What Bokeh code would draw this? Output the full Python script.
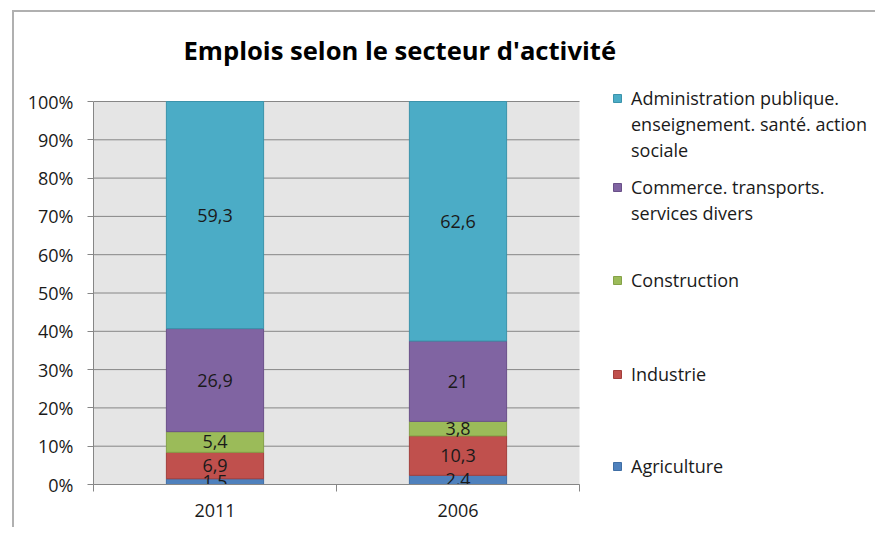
from bokeh.plotting import figure
from bokeh.models import ColumnDataSource, Range1d, FixedTicker, Legend, LegendItem, BoxAnnotation
from bokeh.core.properties import value
from bokeh.embed import file_html
from bokeh.resources import INLINE

# ---- data ----
chart_title = "Emplois selon le secteur d'activité"
years = ["2011", "2006"]
sectors = [
    "Agriculture",
    "Industrie",
    "Construction",
    "Commerce. transports.\nservices divers",
    "Administration publique.\nenseignement. santé. action\nsociale",
]
agriculture = [1.5, 2.4]
industrie = [6.9, 10.3]
construction = [5.4, 3.8]
commerce = [26.9, 21.0]
administration = [59.3, 62.6]
y_ticks = [0, 10, 20, 30, 40, 50, 60, 70, 80, 90, 100]
y_tick_labels = ["0%", "10%", "20%", "30%", "40%", "50%", "60%", "70%", "80%", "90%", "100%"]

colors = ["#4f81bd", "#c0504d", "#9bbb59", "#8064a2", "#4bacc6"]
edges = ["#3f6ea5", "#a33f3c", "#85a248", "#6a5089", "#3b93ab"]
FONT = "Open Sans"
GRID = "#868686"

# ---- layout (pixels) ----
PLOT_W, PLOT_H = 486, 383          # plot area (grey box)
FRAME_W, FRAME_H = 782, 404        # frame also covers the legend area
y_max = y_ticks[-1]
x_max = len(years)

series = [agriculture, industrie, construction, commerce, administration]
keys = ["agr", "ind", "con", "com", "adm"]
totals = [sum(s[i] for s in series) for i in range(len(years))]
xs = [i + 0.5 for i in range(len(years))]
data = {"x": xs}
for k, s in zip(keys, series):
    data[k] = [v / t * 100 for v, t in zip(s, totals)]
src = ColumnDataSource(data)

# label positions (segment midpoints)
lx, ly, lt = [], [], []
for i in range(len(years)):
    base = 0.0
    for k, s in zip(keys, series):
        h = data[k][i]
        lx.append(xs[i])
        ly.append(base + h / 2)
        lt.append(("%g" % s[i]).replace(".", ","))
        base += h
lab_src = ColumnDataSource(dict(x=lx, y=ly, t=lt))

p = figure(
    frame_width=FRAME_W, frame_height=FRAME_H,
    min_border_left=79, min_border_top=68, min_border_right=0, min_border_bottom=43,
    x_range=Range1d(0, x_max * FRAME_W / PLOT_W), y_range=Range1d(0, y_max * FRAME_H / PLOT_H),
    output_backend="svg", toolbar_location=None, tools="",
    title=chart_title,
)
p.margin = (10, 0, 0, 12)
p.styles = {"border-top": "2px solid #b0b0b0", "border-left": "2px solid #b0b0b0"}

p.title.align = "left"
p.title.offset = 90
p.title.text_font = FONT
p.title.text_font_size = "25.6px"
p.title.text_font_style = "bold"
p.title.text_color = "#000000"
p.title.standoff = 25

p.background_fill_color = "white"
p.border_fill_color = "white"
p.outline_line_color = None

plot_bg = BoxAnnotation(left=0, right=x_max, bottom=0, top=y_max, fill_color="#e5e5e5",
                        fill_alpha=1, line_color=None, level="image")
p.add_layout(plot_bg)

# horizontal gridlines limited to the plot area
p.segment(x0=[0] * len(y_ticks), x1=[x_max] * len(y_ticks), y0=y_ticks, y1=y_ticks,
          line_color=GRID, line_width=1)

rends = p.vbar_stack(keys, x="x", width=0.4, source=src, fill_color=colors, line_color=edges, line_width=1)

p.text(x="x", y="y", text="t", source=lab_src, text_align="center", text_baseline="middle",
       text_font=value(FONT), text_font_size="18px", text_color="#1a1a1a")

# axes
p.xgrid.visible = False
p.ygrid.visible = False

p.yaxis.ticker = FixedTicker(ticks=y_ticks)
p.yaxis.bounds = (0, y_max)
p.yaxis.major_label_overrides = {t: l for t, l in zip(y_ticks, y_tick_labels)}
p.yaxis.major_label_text_font = FONT
p.yaxis.major_label_text_font_size = "18px"
p.yaxis.major_label_text_color = "#1a1a1a"
p.yaxis.major_label_standoff = 14
p.yaxis.major_tick_out = 6
p.yaxis.major_tick_in = 0
p.yaxis.minor_tick_line_color = None
p.yaxis.axis_line_color = GRID
p.yaxis.major_tick_line_color = GRID

p.xaxis.ticker = FixedTicker(ticks=xs, minor_ticks=list(range(len(years) + 1)))
p.xaxis.bounds = (0, x_max)
p.xaxis.major_label_overrides = {x: y for x, y in zip(xs, years)}
p.xaxis.major_label_text_font = FONT
p.xaxis.major_label_text_font_size = "18px"
p.xaxis.major_label_text_color = "#1a1a1a"
p.xaxis.major_label_standoff = 12
p.xaxis.major_tick_out = 0
p.xaxis.major_tick_in = 0
p.xaxis.minor_tick_out = 7
p.xaxis.minor_tick_in = 0
p.xaxis.minor_tick_line_color = GRID
p.xaxis.axis_line_color = GRID

# legend: Excel-like, glyph beside the first line, one legend box per text line
blank = p.vbar(x=[], top=[], width=0.4, fill_alpha=0, line_alpha=0)   # invisible, for continuation lines
LINE = 26
row_centers = {  # screen y of each sector's first line (page px)
    4: 98, 3: 187, 2: 280, 1: 374, 0: 466,
}
FRAME_BOTTOM = 484
GLYPH_X = 519
for i in range(len(sectors)):
    lines = sectors[i].split("\n")
    for j, line in enumerate(lines):
        cy = row_centers[i] + j * LINE
        leg = Legend(
            items=[LegendItem(label=line, renderers=[rends[i] if j == 0 else blank])],
            location=(GLYPH_X, FRAME_BOTTOM - cy - LINE // 2),
            border_line_color=None, background_fill_alpha=0,
            padding=0, margin=0, spacing=0,
            glyph_width=10, glyph_height=10, label_standoff=9,
            label_text_font=FONT, label_text_font_size="18px",
            label_height=LINE, label_text_color="#1a1a1a",
        )
        p.add_layout(leg)

open("out.html", "w").write(file_html(p, INLINE))
